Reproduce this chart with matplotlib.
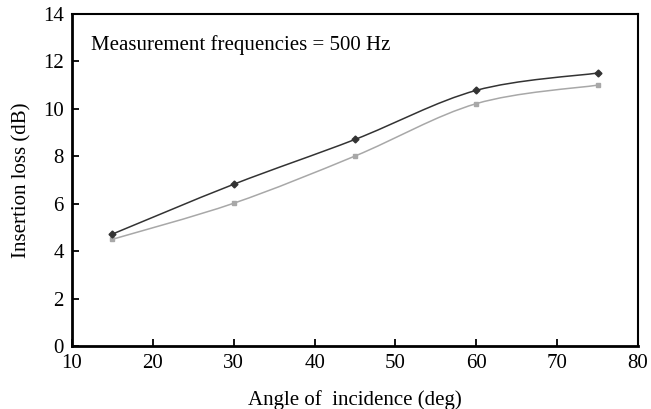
import numpy as np
from matplotlib import pyplot as plt
from matplotlib.path import Path
from matplotlib.patches import PathPatch
import matplotlib

matplotlib.rcParams["font.family"] = ["Liberation Serif", "DejaVu Serif"]
matplotlib.rcParams["font.size"] = 15

angle = [15, 30, 45, 60, 75]
loss_dark = [4.72, 6.82, 8.71, 10.78, 11.51]
loss_gray = [4.5, 6.02, 8.01, 10.22, 11.0]


def smooth_path(x, y, t=0.5):
    # Catmull-Rom style bezier through the points (like a "smoothed line")
    x = np.asarray(x, float)
    y = np.asarray(y, float)
    n = len(x)
    verts = [(x[0], y[0])]
    codes = [Path.MOVETO]
    for i in range(n - 1):
        i0 = max(i - 1, 0)
        i3 = min(i + 2, n - 1)
        c1 = (x[i] + (x[i + 1] - x[i0]) * t / 3, y[i] + (y[i + 1] - y[i0]) * t / 3)
        c2 = (x[i + 1] - (x[i3] - x[i]) * t / 3, y[i + 1] - (y[i3] - y[i]) * t / 3)
        verts += [c1, c2, (x[i + 1], y[i + 1])]
        codes += [Path.CURVE4] * 3
    return Path(verts, codes)


fig = plt.figure(figsize=(6.51, 4.09), dpi=100)
ax = fig.add_axes([72 / 651, 1 - 346 / 409, (638 - 72) / 651, (346 - 14) / 409])

for yv, col, mk, ms in [(loss_gray, "#a8a8a8", "s", 3.5), (loss_dark, "#333333", "D", 3.5)]:
    ax.add_patch(PathPatch(smooth_path(angle, yv), fill=False, edgecolor=col, lw=1.1))
    ax.plot(angle, yv, linestyle="none", marker=mk, color=col, ms=ms)

ax.set_xlim(10, 80)
ax.set_ylim(0, 14)
ax.set_xticks(range(10, 81, 10))
ax.set_yticks(range(0, 15, 2))
ax.tick_params(direction="in", length=5, width=1.3, top=False, right=False, pad=6)
for s in ax.spines.values():
    s.set_linewidth(1.5)
ax.spines["left"].set_linewidth(2)
ax.spines["bottom"].set_linewidth(2)

ax.set_xlabel("Angle of  incidence (deg)", labelpad=12)
ax.set_ylabel("Insertion loss (dB)", labelpad=8)
ax.text(0.034, 0.907, "Measurement frequencies = 500 Hz", transform=ax.transAxes,
        va="center", ha="left")

fig.savefig("out.png")
